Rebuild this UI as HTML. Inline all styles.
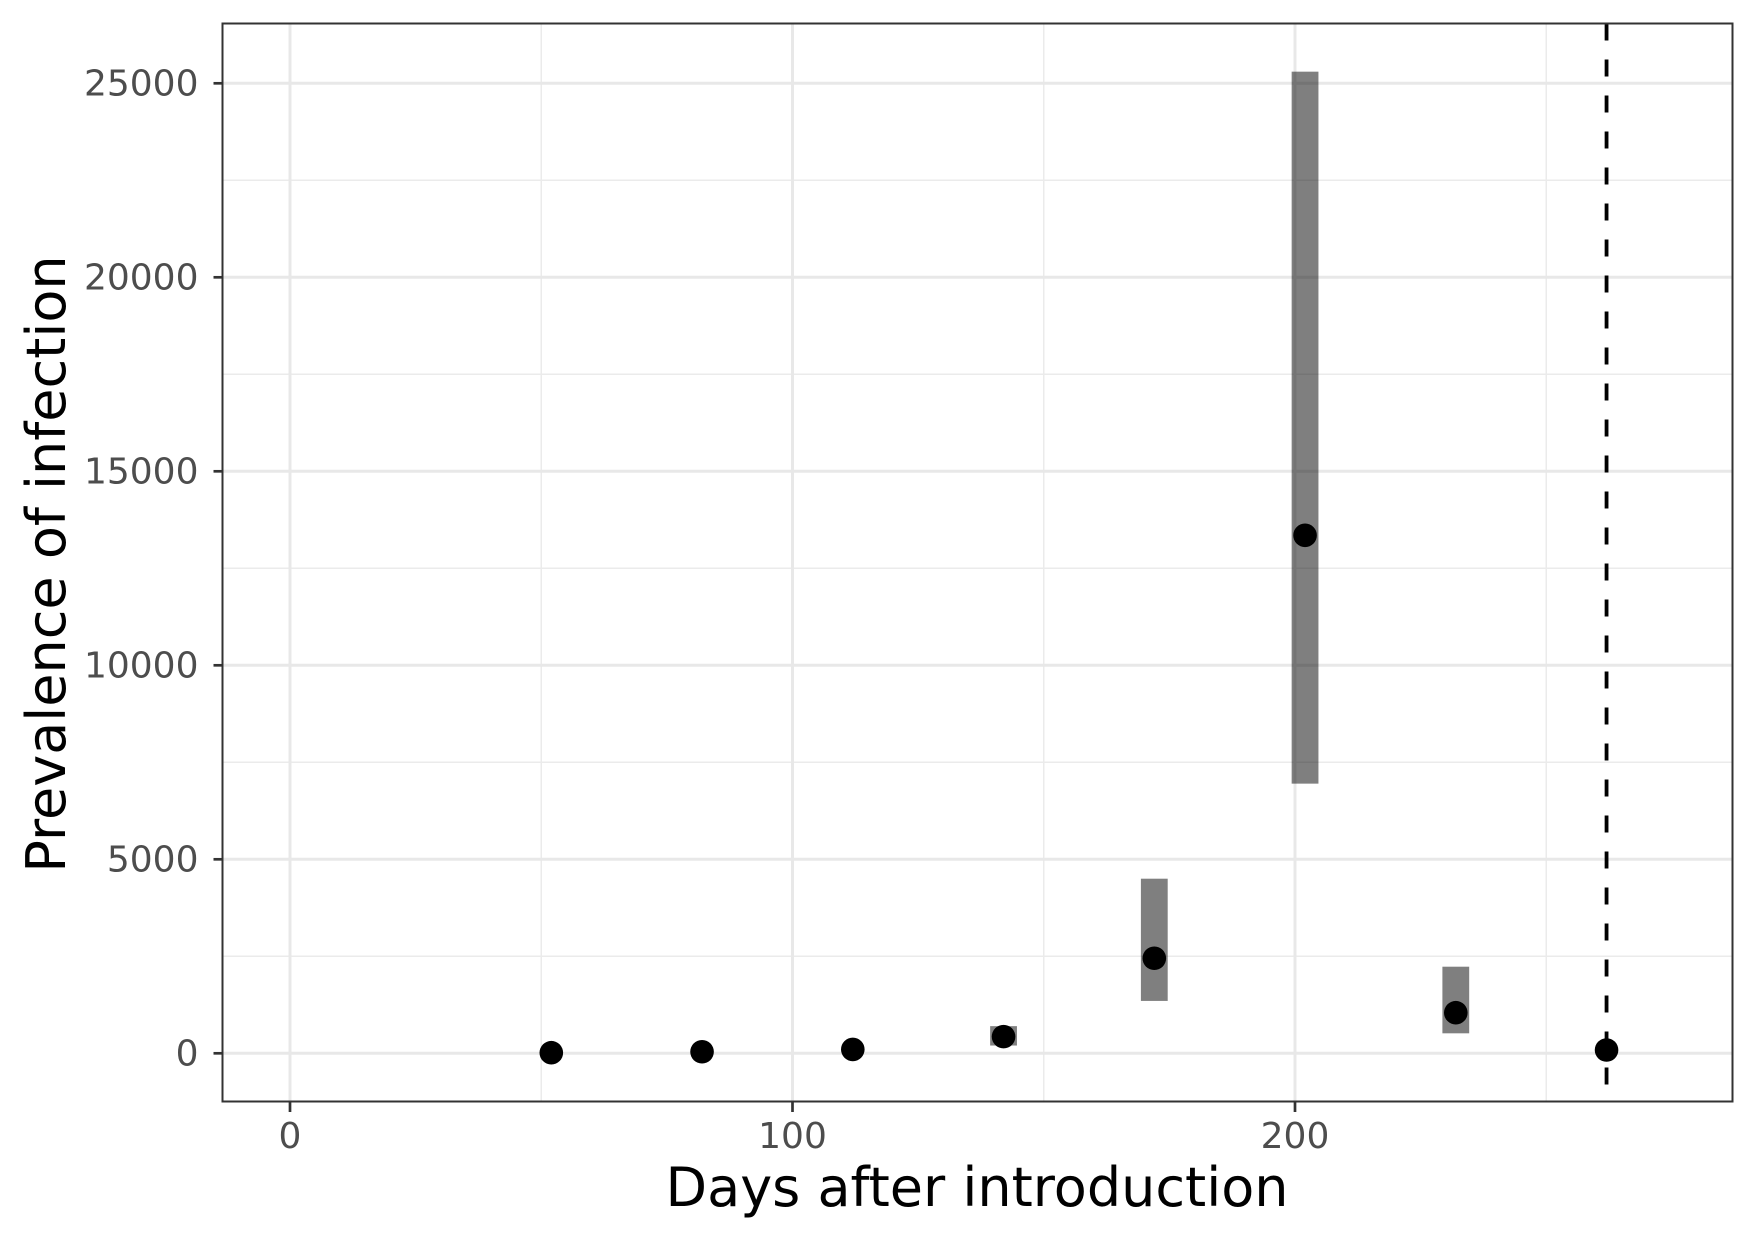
<!DOCTYPE html>
<html><head><meta charset="utf-8"><style>
html,body{margin:0;padding:0;background:#fff;}
svg{display:block;font-family:"DejaVu Sans","Liberation Sans",sans-serif;}
</style></head><body>
<svg id="chart" width="1748" height="1240" viewBox="0 0 1748 1240">
<rect x="0" y="0" width="1748" height="1240" fill="#fff"/>
<g id="grid"></g>
<g id="marks"></g>
<rect x="222.5" y="23.5" width="1510" height="1078" fill="none" stroke="#333" stroke-width="2"/>
<g id="axes"></g>
<text x="977" y="1206" text-anchor="middle" font-size="54" fill="#000">Days after introduction</text>
<text transform="translate(65,564) rotate(-90)" text-anchor="middle" font-size="54" fill="#000">Prevalence of infection</text>
</svg>
<script>
const days = [52, 82, 112, 142, 172, 202, 232, 262];
const prevalence = [15, 40, 100, 430, 2450, 13350, 1046, 85];
const lower = [null, null, null, 200, 1350, 6950, 515, null];
const upper = [null, null, null, 700, 4500, 25300, 2232, null];
const xTicks = [0, 100, 200];
const xTickLabels = ["0", "100", "200"];
const xMinor = [50, 150, 250];
const yTicks = [0, 5000, 10000, 15000, 20000, 25000];
const yTickLabels = ["0", "5000", "10000", "15000", "20000", "25000"];
const yMinor = [2500, 7500, 12500, 17500, 22500];
const cutoffDay = 262;

const NS = "http://www.w3.org/2000/svg";
const PL = 222.5, PR = 1732.5, PT = 23.5, PB = 1101;
function xs(d){ return 290 + d * 5.025; }
function ys(v){ return 1053.3 - v * 0.0388; }
function mk(tag, attrs, parent){
  const e = document.createElementNS(NS, tag);
  for (const k in attrs) e.setAttribute(k, attrs[k]);
  parent.appendChild(e);
  return e;
}
const grid = document.getElementById('grid');
const marks = document.getElementById('marks');
const axes = document.getElementById('axes');

yMinor.forEach(v => {
  const l = mk('line', {x1:PL, x2:PR, y1:ys(v), y2:ys(v), stroke:'#ebebeb', 'stroke-width':1.5}, grid);
  
  
});
xMinor.forEach(d => {
  const l = mk('line', {x1:xs(d), x2:xs(d), y1:PT, y2:PB, stroke:'#ebebeb', 'stroke-width':1.5}, grid);
  
  
});
yTicks.forEach((v, i) => {
  const l = mk('line', {x1:PL, x2:PR, y1:ys(v), y2:ys(v), stroke:'#e8e8e8', 'stroke-width':3}, grid);
  
  
  const t = mk('line', {x1:PL-9, x2:PL, y1:ys(v), y2:ys(v), stroke:'#333', 'stroke-width':2.7}, axes);
  
  
  const tx = mk('text', {x:PL-24, y:ys(v)+12, 'text-anchor':'end', 'font-size':36, fill:'#4d4d4d'}, axes);
  tx.textContent = yTickLabels[i];
  
  
});
xTicks.forEach((d, i) => {
  const l = mk('line', {x1:xs(d), x2:xs(d), y1:PT, y2:PB, stroke:'#e8e8e8', 'stroke-width':3}, grid);
  
  
  const t = mk('line', {x1:xs(d), x2:xs(d), y1:PB, y2:PB+11, stroke:'#333', 'stroke-width':2.7}, axes);
  
  
  const tx = mk('text', {x:xs(d), y:1148, 'text-anchor':'middle', 'font-size':36, fill:'#4d4d4d'}, axes);
  tx.textContent = xTickLabels[i];
  
  
});
days.forEach((d, i) => {
  if (lower[i] !== null) {
    const r = mk('rect', {x:xs(d)-13.4, y:ys(upper[i]), width:26.8, height:ys(lower[i])-ys(upper[i]), fill:'#000', 'fill-opacity':0.5}, marks);
    
    
  }
});
const vl = mk('line', {x1:xs(cutoffDay), x2:xs(cutoffDay), y1:PT, y2:PB, stroke:'#000', 'stroke-width':3.8, 'stroke-dasharray':'17 19'}, marks);


days.forEach((d, i) => {
  const c = mk('circle', {cx:xs(d), cy:ys(prevalence[i]), r:11.8, fill:'#000'}, marks);
  
  
});
</script>
</body></html>
